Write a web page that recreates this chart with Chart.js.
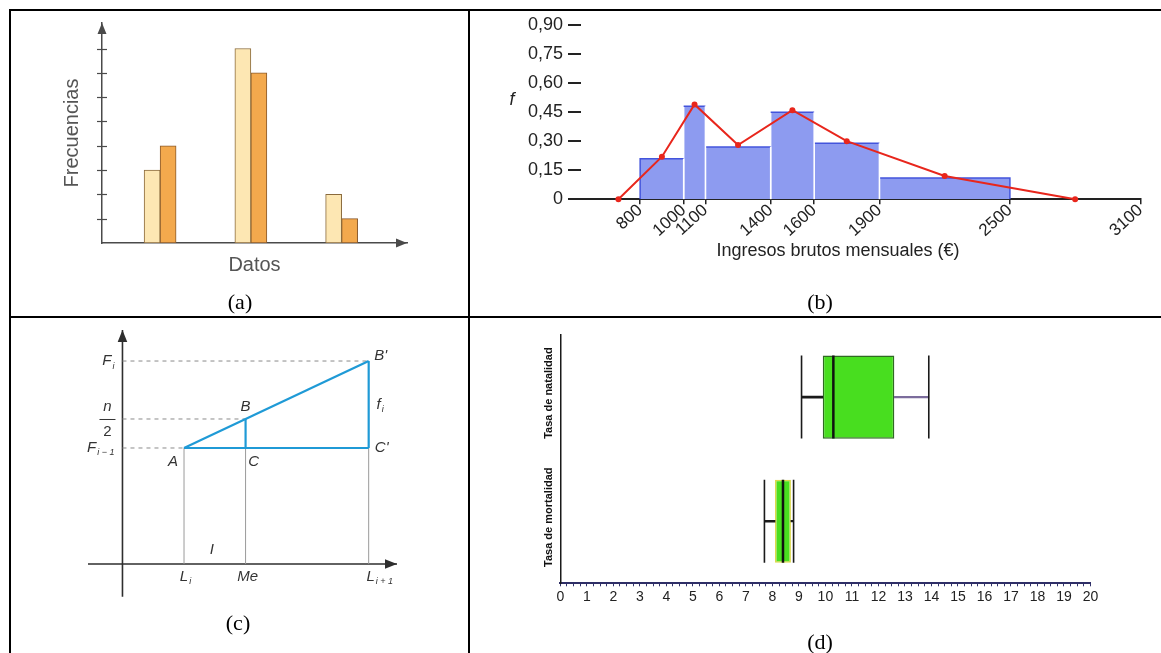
<!DOCTYPE html>
<html>
<head>
<meta charset="utf-8">
<script src="https://cdn.jsdelivr.net/npm/chart.js@4.4.0/dist/chart.umd.min.js"></script>
<style>
  html, body { margin: 0; padding: 0; background: #fff; }
  body { width: 1161px; height: 653px; position: relative; overflow: hidden; }
  .cell { position: absolute; }
  .rule { position: absolute; background: #000; }
  .cap { position: absolute; font-family: 'Liberation Serif', 'Times New Roman', serif; font-size: 22px;
         color: #000; transform: translate(-50%, -50%); white-space: nowrap; }
</style>
</head>
<body>
<div class="rule" style="left:9px;top:9px;width:1152px;height:2px"></div>
<div class="rule" style="left:9px;top:9px;width:2px;height:644px"></div>
<div class="rule" style="left:468px;top:9px;width:2px;height:644px"></div>
<div class="rule" style="left:9px;top:316px;width:1152px;height:2px"></div>

<div class="cell" style="left:0;top:0;width:470px;height:317px"><canvas id="chartA"></canvas></div>
<div class="cell" style="left:470px;top:0;width:691px;height:317px"><canvas id="chartB"></canvas></div>
<div class="cell" style="left:0;top:317px;width:470px;height:336px"><canvas id="chartC"></canvas></div>
<div class="cell" style="left:470px;top:317px;width:691px;height:336px"><canvas id="chartD"></canvas></div>

<div class="cap" style="left:240px;top:302px">(a)</div>
<div class="cap" style="left:820px;top:302px">(b)</div>
<div class="cap" style="left:238px;top:623px">(c)</div>
<div class="cap" style="left:820px;top:642px">(d)</div>

<script>
Chart.defaults.font.family = "'Liberation Sans', Arial, sans-serif";
Chart.defaults.animation = false;
Chart.defaults.plugins.legend.display = false;
Chart.defaults.plugins.tooltip.enabled = false;

// (a) frecuencias
const groupPos = [1, 2, 3];
const freqLight = [3, 8, 2];
const freqDark = [4, 7, 1];
const freqTicks = [1, 2, 3, 4, 5, 6, 7, 8];

// (b) ingresos
const incomeEdges = [800, 1000, 1100, 1400, 1600, 1900, 2500];
const incomeDensity = [0.21, 0.48, 0.27, 0.45, 0.29, 0.11];
const polygonX = [700, 900, 1050, 1250, 1500, 1750, 2200, 2800];
const polygonY = [0, 0.22, 0.49, 0.28, 0.46, 0.30, 0.12, 0];
const incomeTicks = [800, 1000, 1100, 1400, 1600, 1900, 2500, 3100];
const densityTicks = [0, 0.15, 0.30, 0.45, 0.60, 0.75, 0.90];

// (c) mediana: L_i, Me, L_i+1  /  F_i-1, n/2, F_i
const medX = [1, 2, 4];
const medY = [4, 5, 7];

// (d) tasas
const rateLabels = ['Tasa de natalidad', 'Tasa de mortalidad'];
const rateMin = [9.1, 7.7];
const rateQ1 = [9.9, 8.1];
const rateMedian = [10.3, 8.4];
const rateQ3 = [12.6, 8.7];
const rateMax = [13.9, 8.8];
const rateTicks = [0, 1, 2, 3, 4, 5, 6, 7, 8, 9, 10, 11, 12, 13, 14, 15, 16, 17, 18, 19, 20];

// arrow heads at the end of the axes (+ optional ticks across the y axis)
const axisArrows = {
  id: 'axisArrows',
  afterDraw(chart, args, o) {
    const { ctx, chartArea: a, scales: { x, y } } = chart;
    const ox = o.yAxisAt === undefined ? a.left : x.getPixelForValue(o.yAxisAt);
    const oy = o.xAxisAt === undefined ? a.bottom : y.getPixelForValue(o.xAxisAt);
    ctx.save();
    ctx.fillStyle = ctx.strokeStyle = o.color;
    ctx.beginPath();
    ctx.moveTo(ox, a.top);
    ctx.lineTo(ox - o.half, a.top + o.len);
    ctx.lineTo(ox + o.half, a.top + o.len);
    ctx.closePath();
    ctx.fill();
    ctx.beginPath();
    ctx.moveTo(a.right, oy);
    ctx.lineTo(a.right - o.len, oy - o.half);
    ctx.lineTo(a.right - o.len, oy + o.half);
    ctx.closePath();
    ctx.fill();
    if (o.tick) {
      ctx.lineWidth = 1.2;
      y.ticks.forEach(t => {
        const py = Math.round(y.getPixelForValue(t.value)) + 0.5;
        ctx.beginPath();
        ctx.moveTo(ox - o.tick, py);
        ctx.lineTo(ox + o.tick, py);
        ctx.stroke();
      });
    }
    ctx.restore();
  }
};

// free text labels, placed in data units (x, y) or canvas pixels (px, py)
const notes = {
  id: 'notes',
  afterDraw(chart, args, o) {
    const ctx = chart.ctx;
    (o.items || []).forEach(n => {
      let x = n.px, y = n.py;
      if (n.x !== undefined) {
        x = chart.scales.x.getPixelForValue(n.x) + (n.dx || 0);
        y = chart.scales.y.getPixelForValue(n.y) + (n.dy || 0);
      }
      ctx.save();
      ctx.fillStyle = o.color;
      ctx.strokeStyle = o.color;
      ctx.textBaseline = 'middle';
      if (n.frac) {
        ctx.font = o.font;
        ctx.textAlign = 'center';
        ctx.fillText(n.frac[0], x, y - 12);
        ctx.font = o.plain;
        ctx.fillText(n.frac[1], x, y + 13);
        ctx.lineWidth = 1;
        ctx.beginPath();
        ctx.moveTo(x - 8, y + 0.5);
        ctx.lineTo(x + 8, y + 0.5);
        ctx.stroke();
        ctx.restore();
        return;
      }
      const font = n.font || o.font;
      ctx.font = font;
      const w1 = ctx.measureText(n.text).width;
      let w2 = 0;
      if (n.sub) { ctx.font = o.subFont; w2 = ctx.measureText(n.sub).width + 1; }
      let left = x - w1 / 2;
      if (n.align === 'right') left = x - w1 - w2;
      if (n.align === 'left') left = x;
      ctx.textAlign = 'left';
      ctx.font = font;
      ctx.fillText(n.text, left, y);
      if (n.sub) { ctx.font = o.subFont; ctx.fillText(n.sub, left + w1 + 1, y + 5); }
      ctx.restore();
    });
  }
};

// rotated category names on the left of (d)
const sideLabels = {
  id: 'sideLabels',
  afterDraw(chart, args, o) {
    const { ctx, scales: { y } } = chart;
    ctx.save();
    ctx.font = o.font;
    ctx.fillStyle = o.color;
    ctx.textAlign = 'center';
    ctx.textBaseline = 'middle';
    y.ticks.forEach((t, i) => {
      ctx.save();
      ctx.translate(o.x, y.getPixelForTick(i) + o.dy);
      ctx.rotate(-Math.PI / 2);
      ctx.fillText(chart.data.labels[i], 0, 0);
      ctx.restore();
    });
    ctx.restore();
  }
};

// ---------- (a) ----------
new Chart(document.getElementById('chartA'), {
  type: 'bar',
  data: {
    datasets: [
      { data: groupPos.map((x, i) => ({ x, y: freqLight[i] })), backgroundColor: '#fde7b3',
        borderColor: '#8a6a3c', borderWidth: 1, borderSkipped: false, barThickness: 16 },
      { data: groupPos.map((x, i) => ({ x, y: freqDark[i] })), backgroundColor: '#f3a94d',
        borderColor: '#8a5a2c', borderWidth: 1, borderSkipped: false, barThickness: 16 }
    ]
  },
  options: {
    responsive: true,
    maintainAspectRatio: false,
    layout: { autoPadding: false, padding: { left: 0, top: 23, right: 63, bottom: 0 } },
    plugins: {
      axisArrows: { color: '#4a4a4a', len: 11, half: 4.5, tick: 5 }
    },
    scales: {
      x: {
        type: 'linear', offset: false, min: 0.36, max: 3.72,
        grid: { display: false }, ticks: { display: false },
        border: { color: '#4a4a4a', width: 1.5 },
        title: { display: true, text: 'Datos', color: '#555', font: { size: 20 }, padding: { top: 0, bottom: 40 } },
        afterFit: s => { s.height = 74; }
      },
      y: {
        min: 0, max: 9.05,
        afterBuildTicks: s => { s.ticks = freqTicks.map(v => ({ value: v })); },
        grid: { display: false }, ticks: { display: false },
        border: { color: '#4a4a4a', width: 1.5 },
        title: { display: true, text: 'Frecuencias', color: '#555', font: { size: 20 }, padding: { top: 60, bottom: 0 } },
        afterFit: s => { s.width = 102; }
      }
    }
  },
  plugins: [axisArrows]
});

// ---------- (b) ----------
const binSets = incomeDensity.map((h, i) => {
  const lo = incomeEdges[i], hi = incomeEdges[i + 1];
  const first = incomeEdges[0], last = incomeEdges[incomeEdges.length - 1];
  return {
    type: 'scatter', showLine: true, pointRadius: 0, fill: 'origin',
    backgroundColor: '#8d9bf0', borderWidth: 1.5,
    data: [{ x: lo, y: 0 }, { x: lo, y: h }, { x: hi, y: h }, { x: hi, y: 0 }],
    segment: {
      borderColor: c => {
        if (c.p0.parsed.x !== c.p1.parsed.x) return '#4354dc';
        return (c.p0.parsed.x === first || c.p0.parsed.x === last) ? '#4354dc' : '#ffffff';
      }
    }
  };
});

new Chart(document.getElementById('chartB'), {
  type: 'scatter',
  data: {
    datasets: [
      { type: 'scatter', showLine: true, data: polygonX.map((x, i) => ({ x, y: polygonY[i] })),
        borderColor: '#e8261c', borderWidth: 2, pointRadius: 3, pointBackgroundColor: '#e8261c',
        pointBorderWidth: 0, fill: false, clip: false }
    ].concat(binSets)
  },
  options: {
    responsive: true,
    maintainAspectRatio: false,
    layout: { autoPadding: false, padding: { left: 0, top: 25, right: 20.6, bottom: 0 } },
    plugins: {
      notes: { color: '#222', font: '18px "Liberation Sans"', subFont: '11px "Liberation Sans"',
               items: [
                 { px: 42, py: 100, text: 'f', font: 'italic 18px "Liberation Sans"' },
                 { px: 368, py: 251, text: 'Ingresos brutos mensuales (€)' }
               ] }
    },
    scales: {
      x: {
        type: 'linear', min: 528, max: 3100,
        afterBuildTicks: s => { s.ticks = incomeTicks.map(v => ({ value: v })); },
        ticks: { autoSkip: false, minRotation: 42, maxRotation: 42, color: '#222', font: { size: 17 }, padding: -4,
                 callback: v => String(v) },
        grid: { drawOnChartArea: false, tickLength: 5, color: '#222', lineWidth: 1.5 },
        border: { color: '#222', width: 2 },
        afterFit: s => { s.height = 117.7; }
      },
      y: {
        min: 0, max: 0.9,
        afterBuildTicks: s => { s.ticks = densityTicks.map(v => ({ value: v })); },
        ticks: { color: '#222', font: { size: 18 }, padding: 5,
                 callback: v => v === 0 ? '0' : v.toFixed(2).replace('.', ',') },
        grid: { drawOnChartArea: false, tickLength: 13, color: '#222', lineWidth: 2 },
        border: { display: false },
        afterFit: s => { s.width = 111; }
      }
    }
  },
  plugins: [notes]
});

// ---------- (c) ----------
const ptA = { x: medX[0], y: medY[0] };
const ptB = { x: medX[1], y: medY[1] };
const ptC = { x: medX[1], y: medY[0] };
const ptB2 = { x: medX[2], y: medY[2] };
const ptC2 = { x: medX[2], y: medY[0] };
const cX = { min: -0.56, max: 4.46 };
const cY = { min: -1.13, max: 8.07 };

function seg(p, q, style) {
  return Object.assign({ type: 'scatter', showLine: true, pointRadius: 0, clip: false, data: [p, q] }, style);
}
const axisStyle = { borderColor: '#2e2e2e', borderWidth: 1.6 };
const thinStyle = { borderColor: '#9a9a9a', borderWidth: 1 };
const dashStyle = { borderColor: '#8a8a8a', borderWidth: 1, borderDash: [4, 4] };
const blueStyle = { borderColor: '#1f9ad6', borderWidth: 2.2 };

new Chart(document.getElementById('chartC'), {
  type: 'scatter',
  data: {
    datasets: [
      seg(ptA, ptB2, blueStyle),
      seg(ptA, ptC2, blueStyle),
      seg(ptC2, ptB2, blueStyle),
      seg(ptC, ptB, blueStyle),
      seg({ x: 0, y: medY[2] }, ptB2, dashStyle),
      seg({ x: 0, y: medY[1] }, ptB, dashStyle),
      seg({ x: 0, y: medY[0] }, ptA, dashStyle),
      seg({ x: medX[0], y: 0 }, ptA, thinStyle),
      seg({ x: medX[1], y: 0 }, ptC, thinStyle),
      seg({ x: medX[2], y: 0 }, ptC2, thinStyle),
      seg({ x: cX.min, y: 0 }, { x: cX.max, y: 0 }, axisStyle),
      seg({ x: 0, y: cY.min }, { x: 0, y: cY.max }, axisStyle)
    ]
  },
  options: {
    responsive: true,
    maintainAspectRatio: false,
    layout: { autoPadding: false, padding: { left: 88, top: 13, right: 73, bottom: 56.3 } },
    plugins: {
      axisArrows: { color: '#2e2e2e', len: 12, half: 4.8, xAxisAt: 0, yAxisAt: 0 },
      notes: {
        color: '#333', font: 'italic 15px "Liberation Sans"', plain: '15px "Liberation Sans"',
        subFont: 'italic 9px "Liberation Sans"',
        items: [
          { x: 0, y: medY[2], dx: -8, text: 'F', sub: 'i', align: 'right' },
          { x: 0, y: medY[1], dx: -15, frac: ['n', '2'] },
          { x: 0, y: medY[0], dx: -8, text: 'F', sub: 'i − 1', align: 'right' },
          { x: medX[0], y: medY[0], dx: -11, dy: 14, text: 'A' },
          { x: medX[1], y: medY[0], dx: 8, dy: 14, text: 'C' },
          { x: medX[1], y: medY[1], dx: 0, dy: -12, text: 'B' },
          { x: medX[2], y: medY[2], dx: 12, dy: -5, text: "B'" },
          { x: medX[2], y: (medY[0] + medY[2]) / 2, dx: 10, dy: 0, text: 'f', sub: 'i' },
          { x: medX[2], y: medY[0], dx: 13, dy: 0, text: "C'" },
          { x: (medX[0] + medX[1]) / 2, y: 0, dx: -3, dy: -14, text: 'I' },
          { x: medX[0], y: 0, dx: 0, dy: 13, text: 'L', sub: 'i' },
          { x: medX[1], y: 0, dx: 2, dy: 13, text: 'Me' },
          { x: medX[2], y: 0, dx: 2, dy: 13, text: 'L', sub: 'i + 1' }
        ]
      }
    },
    scales: {
      x: { type: 'linear', min: cX.min, max: cX.max, display: false },
      y: { type: 'linear', min: cY.min, max: cY.max, display: false }
    }
  },
  plugins: [axisArrows, notes]
});

// ---------- (d) ----------
const capPoints = [];
rateLabels.forEach((lab, i) => {
  capPoints.push({ x: rateMin[i], y: lab });
  capPoints.push({ x: rateMax[i], y: lab });
});

new Chart(document.getElementById('chartD'), {
  type: 'bar',
  data: {
    labels: rateLabels,
    datasets: [
      { type: 'scatter', indexAxis: 'x', data: rateLabels.map((lab, i) => ({ x: rateMedian[i], y: lab })),
        pointStyle: 'line', pointRotation: 90, pointRadius: 41.5, pointBorderWidth: 2.5,
        pointBorderColor: '#111', pointBackgroundColor: '#111' },
      { type: 'scatter', indexAxis: 'x', data: capPoints,
        pointStyle: 'line', pointRotation: 90, pointRadius: 41.5, pointBorderWidth: 1.6,
        pointBorderColor: '#1a1a1a', pointBackgroundColor: '#1a1a1a' },
      { type: 'bar', indexAxis: 'y', grouped: false, barThickness: 2,
        data: rateLabels.map((l, i) => [rateMin[i], rateQ1[i]]), backgroundColor: '#1a1a1a' },
      { type: 'bar', indexAxis: 'y', grouped: false, barThickness: 1.6,
        data: rateLabels.map((l, i) => [rateQ3[i], rateMax[i]]), backgroundColor: ['#7b6c9c', '#1a1a1a'] },
      { type: 'bar', indexAxis: 'y', grouped: false, barPercentage: 0.67, categoryPercentage: 1,
        data: rateLabels.map((l, i) => [rateQ1[i], rateQ3[i]]), backgroundColor: '#48de1f',
        borderColor: ['#2f6a22', '#dcd84a'], borderWidth: 1.5, borderSkipped: false }
    ]
  },
  options: {
    indexAxis: 'y',
    responsive: true,
    maintainAspectRatio: false,
    layout: { autoPadding: false, padding: { left: 0, top: 18, right: 70.5, bottom: 0 } },
    plugins: {
      sideLabels: { x: 79, dy: -4, color: '#111', font: 'bold 11px "Liberation Sans"' }
    },
    scales: {
      x: {
        type: 'linear', min: 0, max: 20,
        afterBuildTicks: s => {
          const t = [];
          rateTicks.forEach((v, i) => {
            t.push({ value: v });
            if (i < rateTicks.length - 1) [0.25, 0.5, 0.75].forEach(f => t.push({ value: v + f }));
          });
          s.ticks = t;
        },
        ticks: { autoSkip: false, minRotation: 0, maxRotation: 0, color: '#222', font: { size: 14 }, padding: 2,
                 callback: v => Number.isInteger(v) ? String(v) : '' },
        grid: { drawOnChartArea: false, tickLength: 3, color: '#34346c', lineWidth: 1 },
        border: { color: '#2e2e66', width: 2 },
        afterFit: s => { s.height = 69.7; }
      },
      y: {
        type: 'category', offset: true,
        grid: { display: false }, ticks: { display: false },
        border: { color: '#1a1a1a', width: 1.5 },
        afterFit: s => { s.width = 90.3; }
      }
    }
  },
  plugins: [sideLabels]
});
</script>
</body>
</html>
